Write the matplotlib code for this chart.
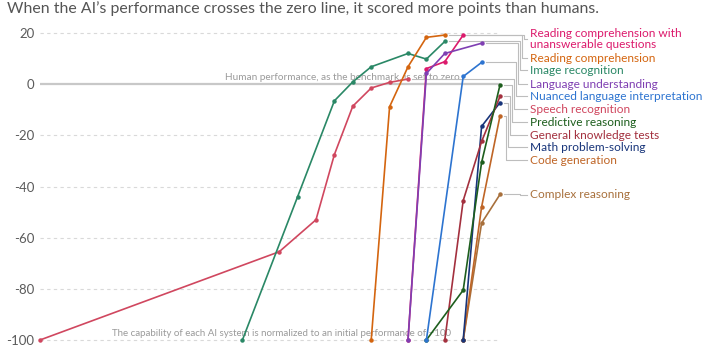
import matplotlib
matplotlib.use("Agg")
import matplotlib.pyplot as plt
from matplotlib.ticker import FuncFormatter

plt.rcParams['font.family'] = ['Lato', 'DejaVu Sans']

# series data: years and score relative to human performance
unanswerable_years = [2018, 2019, 2020, 2021]
unanswerable_vals = [-100, 6.1, 8.8, 19.2]

reading_years = [2016, 2017, 2018, 2019, 2020]
reading_vals = [-100, -8.8, 6.8, 18.3, 19.2]

image_years = [2009, 2012, 2014, 2015, 2016, 2018, 2019, 2020]
image_vals = [-100, -44, -6.5, 0.9, 6.8, 12.0, 9.8, 16.7]

language_years = [2018, 2019, 2020, 2022]
language_vals = [-100, 4.2, 12.0, 16.0]

nuanced_years = [2019, 2021, 2022]
nuanced_vals = [-100, 3.0, 8.5]

speech_years = [1998, 2011, 2013, 2014, 2015, 2016, 2017, 2018]
speech_vals = [-100, -65.5, -53, -27.5, -8.6, -1.5, 0.7, 2.0]

predictive_years = [2019, 2021, 2022, 2023]
predictive_vals = [-100, -80.5, -30.6, -0.3]

knowledge_years = [2020, 2021, 2022, 2023]
knowledge_vals = [-100, -45.5, -22.4, -4.8]

math_years = [2021, 2022, 2023]
math_vals = [-100, -16.5, -7.2]

code_years = [2021, 2022, 2023]
code_vals = [-100, -48, -12.4]

complex_years = [2021, 2022, 2023]
complex_vals = [-100, -54.3, -43.1]

labels = ["Reading comprehension with\nunanswerable questions", "Reading comprehension",
          "Image recognition", "Language understanding", "Nuanced language interpretation",
          "Speech recognition", "Predictive reasoning", "General knowledge tests",
          "Math problem-solving", "Code generation", "Complex reasoning"]

series = [
    (unanswerable_years, unanswerable_vals, '#dc1a6c'),
    (reading_years, reading_vals, '#d4650f'),
    (image_years, image_vals, '#2a8866'),
    (language_years, language_vals, '#7f3fb2'),
    (nuanced_years, nuanced_vals, '#2d74d0'),
    (speech_years, speech_vals, '#d0475f'),
    (predictive_years, predictive_vals, '#1d5e1d'),
    (knowledge_years, knowledge_vals, '#a3303e'),
    (math_years, math_vals, '#18357a'),
    (code_years, code_vals, '#bf6526'),
    (complex_years, complex_vals, '#a8703c'),
]

# label layout (pixel rows of labels, elbow columns of connectors)
label_px_y = [40, 59, 71, 85, 97, 110, 123, 136, 148, 161, 195]
elbow_px_x = [524, 522, 520, 518, 516, 514, 512, 510, 508, 506, 520]

W, H = 706, 353
fig = plt.figure(figsize=(W / 100, H / 100), dpi=100)
ax = fig.add_axes([40 / W, 1 - 340 / H, 460 / W, 307 / H])
ax.set_xlim(1998, 2023)
ax.set_ylim(-100, 20)

def px_to_data(px, py):
    x = 1998 + (px - 40) / (460 / 25)
    y = (85 - py) / (255 / 100)
    return x, y

# gridlines
for v in [20, -20, -40, -60, -80, -100]:
    ax.axhline(v, color='#d9d9d9', lw=0.8, ls=(0, (3, 3)), zorder=0, clip_on=False)
ax.axhline(0, color='#c8c8c8', lw=1.6, zorder=0)

ax.text(2008.05, 0.8, "Human performance, as the benchmark, is set to zero",
        fontsize=7.2, color='#9a9a9a', va='bottom', ha='left', zorder=1)
ax.text(2001.9, -99.2, "The capability of each AI system is normalized to an initial performance of \u2212100",
        fontsize=7, color='#9a9a9a', va='bottom', ha='left', zorder=1)

# draw in reverse so top-listed series sit on top, language over unanswerable start
order = list(range(len(series)))[::-1]
for i in order:
    xs, ys, c = series[i]
    z = 3 if i != 3 else 4
    ax.plot(xs, ys, color=c, lw=1.2, marker='o', ms=2.2, zorder=z, clip_on=False)

# connectors and labels
for i, (xs, ys, c) in enumerate(series):
    ex, ey = xs[-1], ys[-1]
    pxe = 40 + (ex - 1998) * (460 / 25) + 4
    bx, _ = px_to_data(elbow_px_x[i], 0)
    sx, _ = px_to_data(pxe, 0)
    tx, ty = px_to_data(527, label_px_y[i])
    ax.plot([sx, bx, bx, tx], [ey, ey, ty, ty], color='#bdbdbd', lw=0.8,
            clip_on=False, zorder=1)
    lx, _ = px_to_data(530, 0)
    ax.text(lx, ty, labels[i], color=c, fontsize=8.6, va='center', ha='left',
            linespacing=1.05)

ax.set_yticks([20, 0, -20, -40, -60, -80, -100])
ax.yaxis.set_major_formatter(FuncFormatter(lambda v, p: "%d" % v))
ax.tick_params(axis='y', length=0, labelsize=9.5, labelcolor='#5b5b5b', pad=4)
ax.set_xticks([])
for s in ax.spines.values():
    s.set_visible(False)

fig.text(7 / W, 1 - 9 / H, "When the AI\u2019s performance crosses the zero line, it scored more points than humans.",
         fontsize=11.4, color='#555555', va='center', ha='left')

fig.savefig("out.png", dpi=100)
